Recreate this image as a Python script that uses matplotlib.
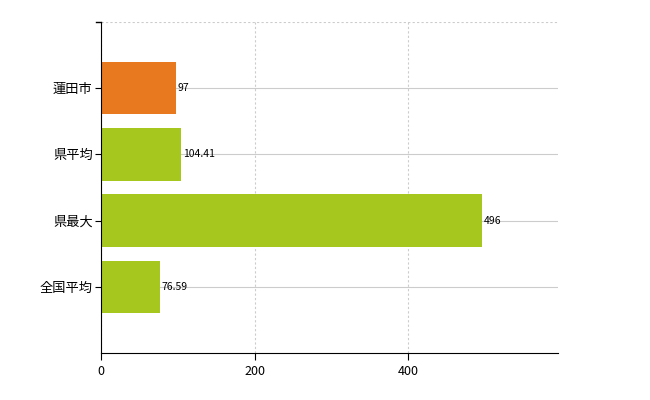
import matplotlib
matplotlib.use("Agg")
from matplotlib import pyplot as plt

plt.rcParams['font.family'] = ['Noto Sans CJK JP', 'DejaVu Sans']

categories = ['蓮田市', '県平均', '県最大', '全国平均']
values = [97, 104.41, 496, 76.59]
labels = ['97', '104.41', '496', '76.59']
colors = ['#E8791E', '#A6C81E', '#A6C81E', '#A6C81E']

fig = plt.figure(figsize=(6.5, 4), dpi=100)
ax = fig.add_axes([101 / 650, 47 / 400, 457 / 650, 331 / 400])

pos = list(range(len(categories)))
ax.barh(pos, values, height=0.79, color=colors, zorder=2)
for p, v, t in zip(pos, values, labels):
    ax.text(v + 2, p, t, va='center', ha='left', fontsize=7.5, zorder=3)

ax.set_xlim(0, 595)
ax.set_ylim(4, -1)
ax.set_xticks([0, 200, 400])
ax.set_yticks(pos)
ax.set_yticklabels(categories, fontsize=9.5)
ax.tick_params(axis='x', labelsize=9, length=5)
ax.tick_params(axis='y', length=4, pad=2)
ax.grid(axis='x', color='#cccccc', linestyle=(0, (2, 2)), linewidth=0.8, zorder=0)
for p in pos:
    ax.axhline(p, color='#cccccc', linewidth=0.8, zorder=1)
ax.axhline(-1, color='#cccccc', linestyle=(0, (2, 2)), linewidth=0.8, zorder=1)
ax.plot([-6, 0], [-1, -1], color='black', linewidth=1, clip_on=False)
ax.spines['top'].set_visible(False)
ax.spines['right'].set_visible(False)

fig.savefig('out.png')
